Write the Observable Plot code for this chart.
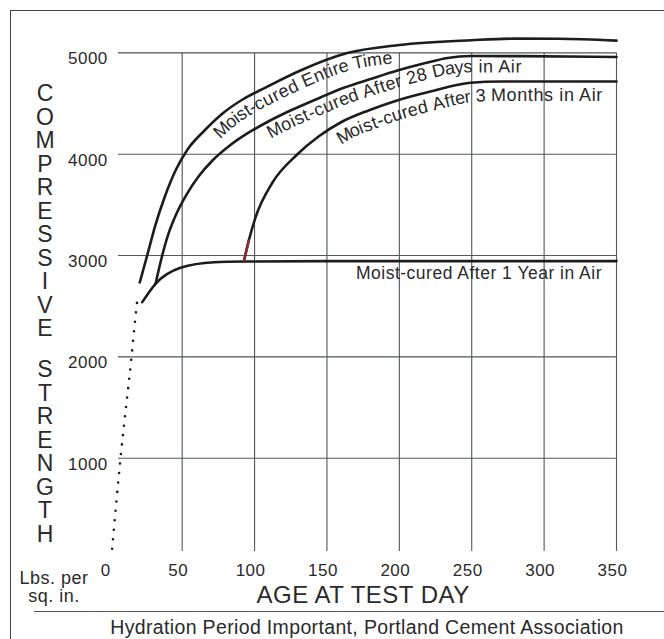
<!DOCTYPE html>
<html>
<head>
<meta charset="utf-8">
<script src="https://cdn.jsdelivr.net/npm/d3@7"></script>
<script src="https://cdn.jsdelivr.net/npm/@observablehq/plot@0.6"></script>
<style>
  html, body { margin: 0; padding: 0; background: #fff; }
  #wrap { position: relative; width: 664px; height: 639px; overflow: hidden;
          font-family: "Liberation Sans", Arial, Helvetica, sans-serif; color: #2a2a2a; background: #fff; }
  #chart { position: absolute; left: 0; top: 0; }
  .frame-top { position: absolute; left: 10px; top: 10px; width: 670px; border-top: 1.6px solid #444; }
  .frame-left { position: absolute; left: 10px; top: 10px; height: 650px; border-left: 1.6px solid #444; }
  .sep { position: absolute; left: 34px; top: 611px; width: 650px; border-top: 1.4px solid #555; }
  .ytitle { position: absolute; left: 30px; width: 30px; text-align: center; font-size: 23px; line-height: 23.5px; }
  .ytitle div { height: 23.5px; }
  .units { position: absolute; left: 14px; top: 569px; width: 80px; text-align: center; font-size: 18px; line-height: 18px; letter-spacing: 0.5px; }
  .caption { position: absolute; left: 0; top: 616px; width: 734px; text-align: center; font-size: 19.5px; line-height: 22px; letter-spacing: 0.35px; }
</style>
</head>
<body>
<div id="wrap">
  <div id="chart"></div>
  <div class="frame-top"></div>
  <div class="frame-left"></div>
  <div class="sep"></div>
  <div class="ytitle" id="yt1" style="top:82px"></div>
  <div class="ytitle" id="yt2" style="top:358px"></div>
  <div class="units" id="units"></div>
  <div class="caption" id="caption"></div>
</div>
<script>
// ---- data ----
const xTicks = [0, 50, 100, 150, 200, 250, 300, 350];
const xGrid = [50, 100, 150, 200, 250, 300, 350];
const yTicks = [1000, 2000, 3000, 4000, 5000];

const yTitleTop = "COMPRESSIVE";
const yTitleBottom = "STRENGTH";
const unitLines = ["Lbs. per", "sq. in."];
const xTitle = "AGE AT TEST DAY";
const captionText = "Hydration Period Important, Portland Cement Association";

const dottedDays = [1.6, 7.4, 15, 17.7, 19.3];
const dottedVals = [106, 1000, 2000, 2390, 2600];

const entireDays = [20.7, 25.8, 31.6, 37.8, 45.4, 53.7, 65.4, 77.9, 91.7, 107.6, 131.7, 164, 200, 249.8, 280.2, 309.9, 350];
const entireVals = [2734, 3000, 3306, 3573, 3839, 4047, 4234, 4402, 4540, 4658, 4826, 4998, 5078, 5125, 5141, 5139, 5121];

const days28Days = [31.6, 36.2, 40.6, 46.1, 53, 61.3, 70.9, 82, 94.4, 108.2, 124.8, 145.5, 162.1, 180.1, 198.7, 218.1, 233.3, 249.2, 283.7, 350];
const days28Vals = [2721, 3000, 3218, 3415, 3602, 3780, 3938, 4076, 4200, 4313, 4431, 4560, 4658, 4742, 4826, 4900, 4950, 4969, 4968, 4960];

const months3Days = [92.6, 96, 100.6, 112.4, 129.4, 144.2, 159.4, 178.7, 198.5, 221.5, 249.2, 269.9, 350];
const months3Vals = [2941, 3148, 3375, 3721, 3997, 4175, 4313, 4432, 4531, 4619, 4705, 4718, 4718];

const year1Days = [22.4, 31.6, 48.8, 72, 92.6, 150, 350];
const year1Vals = [2540, 2721, 2879, 2934, 2941, 2945, 2945];

const seriesNames = ["Moist-cured Entire Time", "Moist-cured After 28 Days in Air",
                     "Moist-cured After 3 Months in Air", "Moist-cured After 1 Year in Air"];
// day on each curve where its label begins
const labelStartDays = [68, 106, 153];
const year1LabelDay = 340;

// ---- build tables ----
const zip = (ds, vs, s) => ds.map((d, i) => ({day: d, val: vs[i], series: s}));
const dotted = zip(dottedDays, dottedVals, "dotted");
const curveSets = [
  zip(entireDays, entireVals, seriesNames[0]),
  zip(days28Days, days28Vals, seriesNames[1]),
  zip(months3Days, months3Vals, seriesNames[2]),
  zip(year1Days, year1Vals, seriesNames[3])
];
const curves = curveSets.flat();
const months3Start = curveSets[2].slice(0, 2);  // reddish tinted start in the print
const yearLabel = [{day: year1LabelDay, val: year1Vals[year1Vals.length - 1], text: seriesNames[3]}];

const FONT = '"Liberation Sans", Arial, Helvetica, sans-serif';
const INK = "#1c1c1c";
const GRID = "#50565c";
const TEXT = "#2a2a2a";

const plot = Plot.plot({
  width: 664,
  height: 612,
  marginLeft: 109.3,
  marginRight: 48,
  marginTop: 22,
  marginBottom: 53,
  x: {domain: [0, 350]},
  y: {domain: [0, 5300]},
  style: {fontFamily: FONT, fontSize: "17px", letterSpacing: "0.5px", color: TEXT, background: "transparent", overflow: "visible"},
  marks: [
    Plot.ruleY(yTicks, {x1: 6, x2: 350, stroke: GRID, strokeWidth: 1.1}),
    Plot.ruleX(xGrid, {y1: 80, y2: 5000, stroke: GRID, strokeWidth: 1.1}),
    Plot.axisX({ticks: xTicks, tickSize: 0, tickPadding: 4, dx: -4, label: null, tickFormat: d3.format("d"), fill: TEXT}),
    Plot.axisY({ticks: yTicks, tickSize: 0, tickPadding: 2, dy: 6, label: null, tickFormat: d3.format("d"), fill: TEXT}),
    Plot.line(dotted, {x: "day", y: "val", stroke: INK, strokeWidth: 2.6, strokeDasharray: "0 9.5", strokeLinecap: "round", curve: "monotone-x"}),
    Plot.line(curves, {x: "day", y: "val", z: "series", stroke: INK, strokeWidth: 2.6, curve: "monotone-x"}),
    Plot.line(months3Start, {x: "day", y: "val", stroke: "#8e2a2e", strokeWidth: 2.4}),
    Plot.text(yearLabel, {x: "day", y: "val", text: "text", textAnchor: "end", dy: 12.5, fontSize: 17.5, fill: TEXT}),
    Plot.text([xTitle], {frameAnchor: "bottom", text: d => d, dy: 43, fontSize: 24, fill: TEXT})
  ]
});
document.getElementById("chart").appendChild(plot);

// curved labels along the curves, positioned through the plot's scales
const sx = plot.scale("x"), sy = plot.scale("y");
const fx = d3.scaleLinear(sx.domain, sx.range);
const fy = d3.scaleLinear(sy.domain, sy.range);
const NS = "http://www.w3.org/2000/svg";
const defs = document.createElementNS(NS, "defs");
plot.appendChild(defs);
const labelGroup = document.createElementNS(NS, "g");
labelGroup.setAttribute("fill", TEXT);
labelGroup.setAttribute("font-size", "18");
labelGroup.setAttribute("letter-spacing", "0.6");
labelGroup.setAttribute("text-anchor", "start");
plot.appendChild(labelGroup);
const lineGen = d3.line(d => fx(d.day), d => fy(d.val)).curve(d3.curveMonotoneX);

function fromDay(data, day) {
  const i = data.findIndex(d => d.day > day);
  const a = data[i - 1], b = data[i];
  const t = (day - a.day) / (b.day - a.day);
  return [{day, val: a.val + t * (b.val - a.val)}, ...data.slice(i)];
}

const labelDy = [18, 17, 20];
[0, 1, 2].forEach(i => {
  const id = "label-path-" + i;
  const p = document.createElementNS(NS, "path");
  p.setAttribute("id", id);
  p.setAttribute("d", lineGen(fromDay(curveSets[i], labelStartDays[i])));
  p.setAttribute("fill", "none");
  defs.appendChild(p);
  const t = document.createElementNS(NS, "text");
  t.setAttribute("text-anchor", "start");
  const tp = document.createElementNS(NS, "textPath");
  tp.setAttribute("href", "#" + id);
  tp.setAttribute("startOffset", "0");
  const ts = document.createElementNS(NS, "tspan");
  ts.setAttribute("dy", String(labelDy[i]));
  ts.textContent = seriesNames[i];
  tp.appendChild(ts);
  t.appendChild(tp);
  labelGroup.appendChild(t);
});

// HTML text pieces
const letters = s => s.split("").map(c => "<div>" + c + "</div>").join("");
document.getElementById("yt1").innerHTML = letters(yTitleTop);
document.getElementById("yt2").innerHTML = letters(yTitleBottom);
document.getElementById("units").innerHTML = unitLines.join("<br>");
document.getElementById("caption").textContent = captionText;
</script>
</body>
</html>
